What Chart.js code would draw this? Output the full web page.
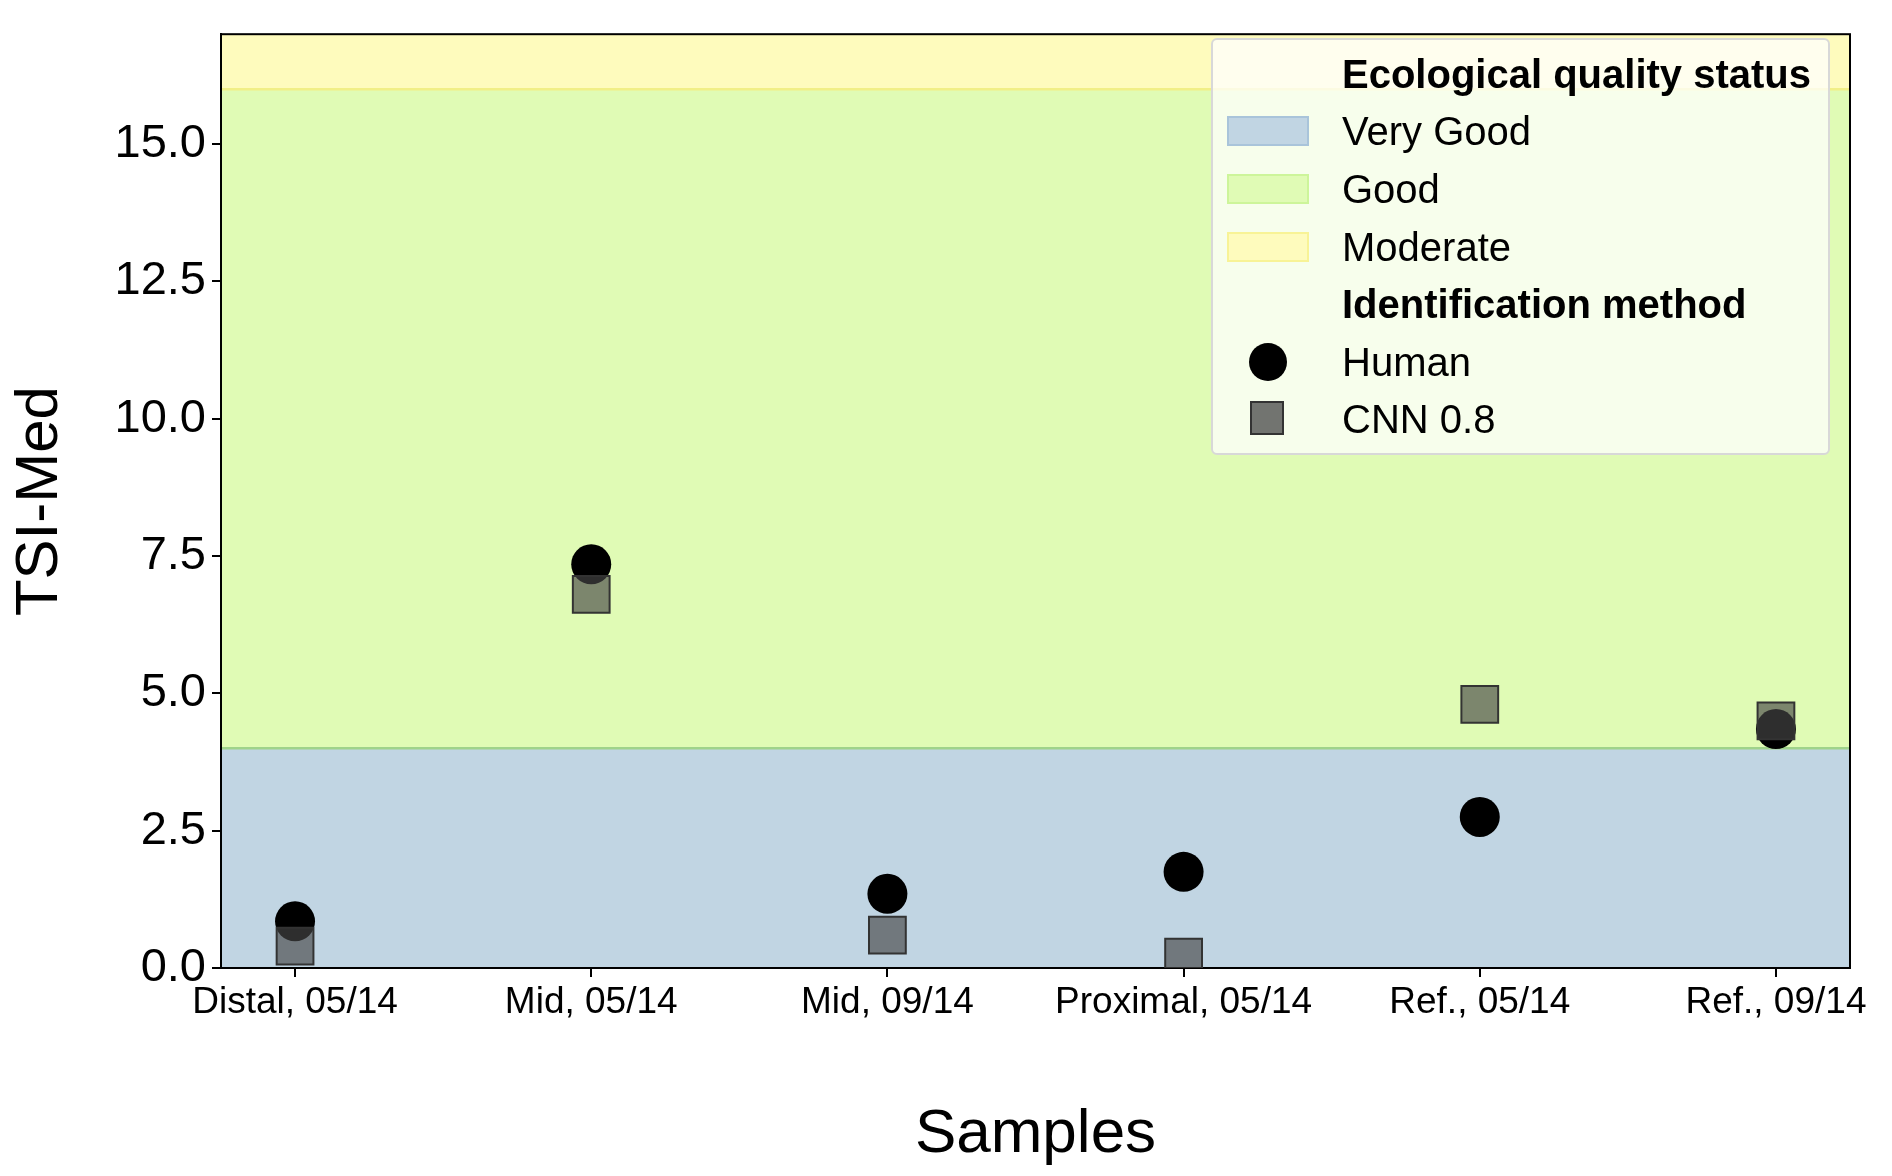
<!DOCTYPE html>
<html lang="en">
<head>
  <meta charset="UTF-8">
  <title>TSI-Med by sample</title>
  <style>
    body { margin: 0; background: #fff; font-family: "Liberation Sans", Arial, sans-serif; }
    .wrap { position: relative; width: 1892px; height: 1176px; }
    canvas { position: absolute; left: 0; top: 0; }
    .legend {
      position: absolute; left: 1211px; top: 38px; width: 619px; height: 417px;
      background: rgba(255,255,255,0.75); border: 2px solid #d8d8d8; border-radius: 6px;
      box-sizing: border-box; font-size: 40px; color: #000;
    }
    .row { position: absolute; left: 0; height: 44px; line-height: 44px; }
    .row span { position: absolute; left: 129px; white-space: nowrap; }
    .row b { position: absolute; left: 129px; white-space: nowrap; }
    .patch { position: absolute; left: 14px; top: 7px; width: 82px; height: 30px; box-sizing: border-box; }
    .dot { position: absolute; left: 36px; top: 3px; width: 38px; height: 38px; border-radius: 50%; background: #000; }
    .sq { position: absolute; left: 37px; top: 4px; width: 34px; height: 34px; background: rgba(70,70,70,0.75); border: 2px solid #333; box-sizing: border-box; }
  </style>
</head>
<body>
  <div class="wrap">
    <canvas id="chart" width="1892" height="1176"></canvas>
    <div class="legend">
      <div class="row" style="top:12px"><b>Ecological quality status</b></div>
      <div class="row" style="top:69px"><div class="patch" style="background:#c1d5e3;border:2px solid #a9c4da"></div><span>Very Good</span></div>
      <div class="row" style="top:127px"><div class="patch" style="background:#e0fbb5;border:2px solid #cdf59a"></div><span>Good</span></div>
      <div class="row" style="top:185px"><div class="patch" style="background:#fefbbd;border:2px solid #f8f396"></div><span>Moderate</span></div>
      <div class="row" style="top:242px"><b>Identification method</b></div>
      <div class="row" style="top:300px"><div class="dot"></div><span>Human</span></div>
      <div class="row" style="top:357px"><div class="sq"></div><span>CNN 0.8</span></div>
    </div>
  </div>

  <script src="https://cdn.jsdelivr.net/npm/chart.js"></script>
  <script>
    const samples = ['Distal, 05/14', 'Mid, 05/14', 'Mid, 09/14', 'Proximal, 05/14', 'Ref., 05/14', 'Ref., 09/14'];
    const human = [0.85, 7.35, 1.35, 1.75, 2.75, 4.35];
    const cnn = [0.4, 6.8, 0.6, 0.2, 4.8, 4.5];
    const bandLimits = [0, 4, 16, 17];
    const bandColors = ['#c1d5e3', '#e0fbb5', '#fefbbd'];
    const bandEdges = ['#9fd38a', '#f1ef86'];

    const bands = {
      id: 'bands',
      beforeDatasetsDraw(chart) {
        const { ctx, chartArea: a, scales: { y } } = chart;
        ctx.save();
        for (let i = 0; i < bandColors.length; i++) {
          const top = y.getPixelForValue(bandLimits[i + 1]);
          const bot = y.getPixelForValue(bandLimits[i]);
          ctx.fillStyle = bandColors[i];
          ctx.fillRect(a.left, top, a.right - a.left, bot - top);
        }
        ctx.lineWidth = 2.5;
        for (let i = 0; i < bandEdges.length; i++) {
          const py = y.getPixelForValue(bandLimits[i + 1]);
          ctx.strokeStyle = bandEdges[i];
          ctx.beginPath(); ctx.moveTo(a.left, py); ctx.lineTo(a.right, py); ctx.stroke();
        }
        ctx.strokeStyle = '#000'; ctx.lineWidth = 2;
        ctx.strokeRect(a.left, a.top, a.right - a.left, a.bottom - a.top);
        ctx.restore();
      }
    };

    const toPts = arr => arr.map((v, i) => ({ x: i, y: v }));
    const tickGrid = { display: true, drawOnChartArea: false, drawTicks: true, tickLength: 9, color: '#000', lineWidth: 2 };

    new Chart(document.getElementById('chart'), {
      type: 'scatter',
      data: {
        datasets: [
          { label: 'CNN 0.8', data: toPts(cnn), pointStyle: 'rect', pointRadius: 26, pointHoverRadius: 26,
            backgroundColor: 'rgba(70,70,70,0.65)', borderColor: '#333', borderWidth: 2 },
          { label: 'Human', data: toPts(human), pointStyle: 'circle', pointRadius: 20, pointHoverRadius: 20,
            backgroundColor: '#000', borderColor: '#000', borderWidth: 0 }
        ]
      },
      options: {
        responsive: false,
        animation: false,
        layout: { padding: { top: 9, right: 42 } },
        plugins: { legend: { display: false }, tooltip: { enabled: false } },
        scales: {
          x: {
            type: 'linear', min: -0.25, max: 5.25,
            afterFit: s => { s.height = 208; },
            afterBuildTicks: s => { s.ticks = samples.map((_, i) => ({ value: i })); },
            grid: tickGrid,
            border: { color: '#000', width: 2 },
            ticks: { color: '#000', font: { size: 37, family: 'Liberation Sans' }, padding: 4,
              maxRotation: 0, autoSkip: false, callback: v => samples[v] },
            title: { display: true, text: 'Samples', color: '#000', padding: { top: 40 },
              font: { size: 62, family: 'Liberation Sans' } }
          },
          y: {
            min: 0, max: 17,
            afterFit: s => { s.width = 221; },
            afterBuildTicks: s => { s.ticks = [0, 2.5, 5, 7.5, 10, 12.5, 15].map(v => ({ value: v })); },
            grid: tickGrid,
            border: { color: '#000', width: 2 },
            ticks: { color: '#000', font: { size: 47, family: 'Liberation Sans' }, padding: 6,
              callback: v => v.toFixed(1) },
            title: { display: true, text: 'TSI-Med', color: '#000', padding: { bottom: 8 },
              font: { size: 60, family: 'Liberation Sans' } }
          }
        }
      },
      plugins: [bands]
    });
  </script>
</body>
</html>
